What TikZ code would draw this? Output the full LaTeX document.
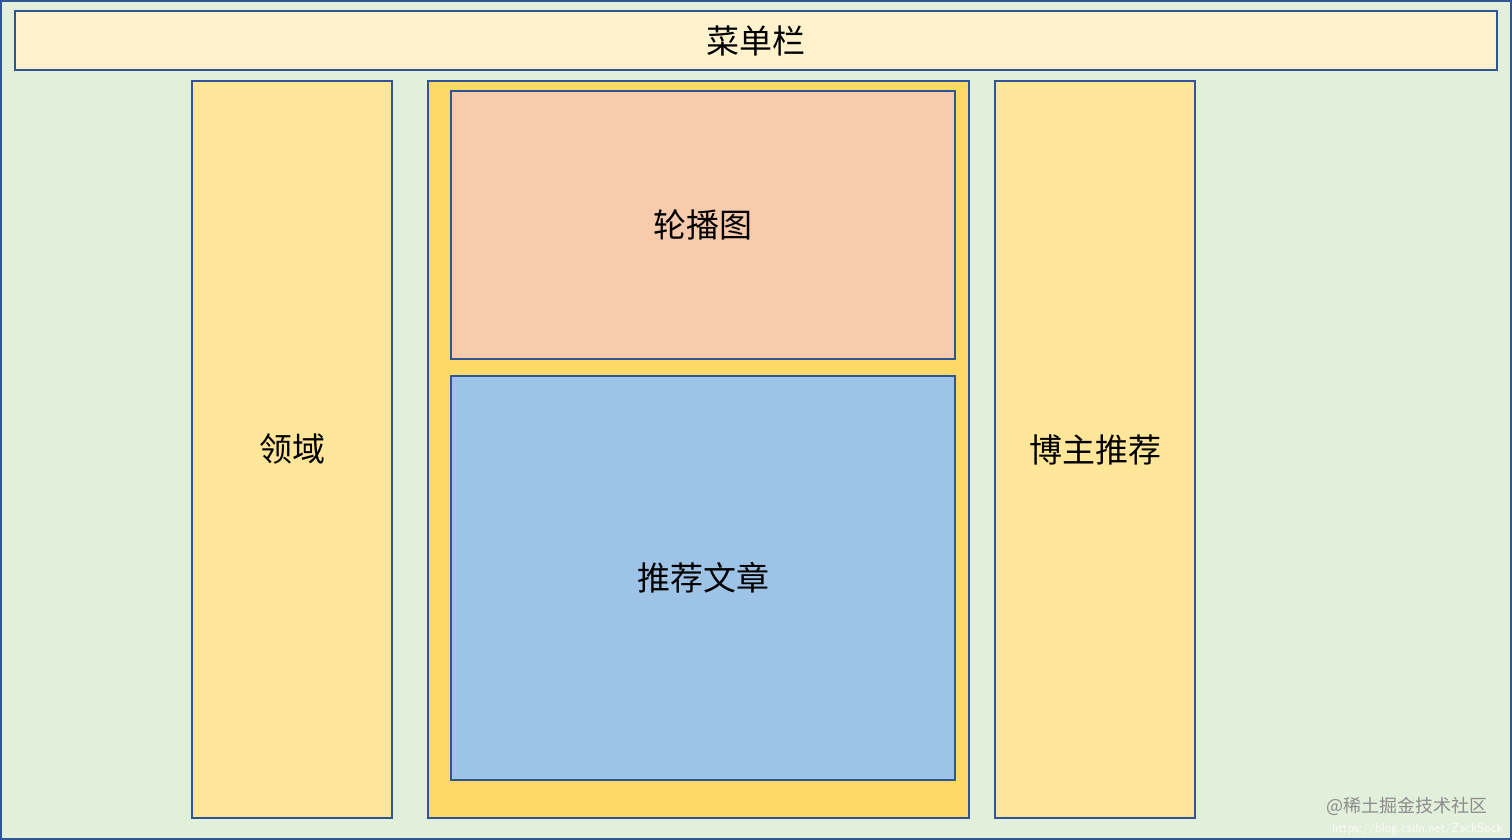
\documentclass[tikz,border=0pt]{standalone}
\usepackage{fontspec}
\newfontfamily\cjk{Noto Sans CJK SC}
\usetikzlibrary{positioning}
\definecolor{lineblue}{HTML}{2F5597}
\definecolor{pagegreen}{HTML}{E2EFDA}
\definecolor{barcream}{HTML}{FFF2CC}
\definecolor{sideyellow}{HTML}{FFE699}
\definecolor{maingold}{HTML}{FFD966}
\definecolor{slidesalmon}{HTML}{F8CBAD}
\definecolor{listblue}{HTML}{9DC3E6}

\begin{document}
\begin{tikzpicture}[x=1pt, y=-1pt,
    block/.style={draw=lineblue, line width=1.4pt, inner sep=0pt, font=\cjk\fontsize{33}{38}\selectfont},
    wmark/.style={inner sep=0pt, font=\cjk\fontsize{18}{20}\selectfont}]
    \useasboundingbox (0,0) rectangle (1512,840);
    \draw[fill=pagegreen, draw=lineblue, line width=2pt] (1,1) rectangle (1511,839);
    \node[block, fill=barcream, minimum width=1482pt, minimum height=59pt] (menubar) at (756,40.5) {\raisebox{-2pt}{菜单栏}};
    \node[block, fill=sideyellow, minimum width=200pt, minimum height=737pt] (field) at (292,449.5) {\raisebox{-2pt}{领域}};
    \node[block, fill=maingold, minimum width=541pt, minimum height=737pt] (mainarea) at (698.5,449.5) {};
    \node[block, fill=slidesalmon, minimum width=504pt, minimum height=268pt] (carousel) at (703,225) {\raisebox{-2pt}{轮播图}};
    \node[block, fill=listblue, minimum width=504pt, minimum height=404pt] (articles) at (703,578) {\raisebox{-2pt}{推荐文章}};
    \node[block, fill=sideyellow, minimum width=200pt, minimum height=737pt] (blogger) at (1095,449.5) {\raisebox{-2pt}{博主推荐}};
    % watermark
    \node[wmark, text=black!45, anchor=east] (brand) at (1488,806) {@稀土掘金技术社区};
    \node[wmark, text=white!85!pagegreen, anchor=east, font=\sffamily\fontsize{13}{15}\selectfont] (url) at (1503,829) {https://blog.csdn.net/ZackSock};
\end{tikzpicture}
\end{document}
